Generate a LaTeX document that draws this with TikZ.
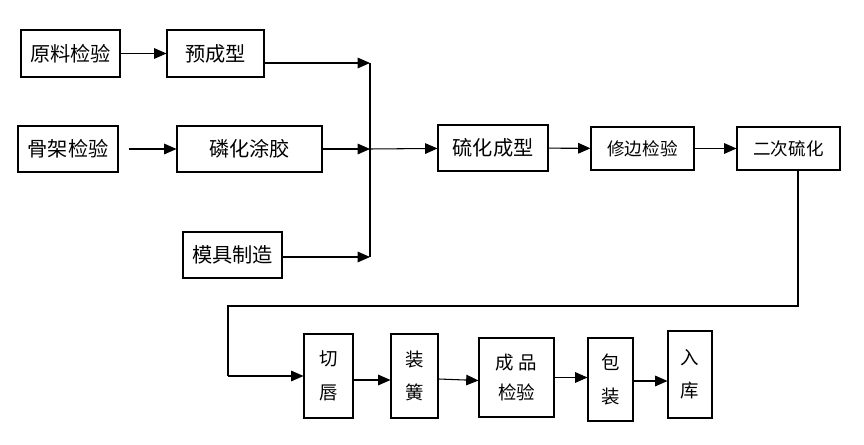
\documentclass[tikz,border=0pt]{standalone}
\usepackage{fontspec}
\usepackage{tikz}
\usetikzlibrary{arrows.meta,positioning}
\newfontfamily\cjk{Noto Sans CJK SC}

\tikzset{
  box/.style={draw, line width=0.6pt, inner sep=0pt, font=\cjk\fontsize{11.5}{14}\selectfont},
  sbox/.style={box, font=\cjk\fontsize{10}{12}\selectfont},
  vbox/.style={box, align=center, font=\cjk\fontsize{10.5}{19}\selectfont},
  arr/.style={line width=0.6pt, -{Triangle[length=7pt,width=6pt]}},
  ln/.style={line width=0.6pt}
}

\begin{document}
\begin{tikzpicture}[x=0.02cm,y=0.02cm]
\useasboundingbox (0,0) rectangle (864,-445);
% upper part
\node [box, minimum width=1.98cm, minimum height=0.94cm] (raw) at (70.5,-53.5) {原料检验};
\node [box, minimum width=1.94cm, minimum height=0.94cm] (preform) at (215.5,-53.5) {预成型};
\node [box, minimum width=2cm, minimum height=0.92cm] (frame) at (68,-149) {骨架检验};
\node [box, minimum width=2.9cm, minimum height=0.92cm] (coat) at (249.5,-149) {磷化涂胶};
\node [box, minimum width=1.98cm, minimum height=0.92cm] (mold) at (232.5,-255) {模具制造};
\coordinate (j1) at (370,-63);
\coordinate (j2) at (370,-149);
\coordinate (j3) at (370,-257);
\node [box, minimum width=2.2cm, minimum height=0.92cm] (cure) at (493,-148) {硫化成型};
\node [sbox, minimum width=2.06cm, minimum height=0.86cm] (trim) at (642.5,-148.5) {修边检验};
\node [sbox, minimum width=2.06cm, minimum height=0.86cm] (cure2) at (788.5,-148.5) {二次硫化};
\draw [arr] (raw) -- (preform);
\draw [arr] ([xshift=0.2cm]frame.east) -- (coat);
\draw [arr] (preform.east |- j1) -- (j1);
\draw [arr] (coat) -- (j2);
\draw [arr] (mold.east |- j3) -- (j3);
\draw [ln] (j1) -- (j3);
\draw [arr] (j2) -- (cure);
\draw [arr] (cure) -- (trim);
\draw [arr] (trim) -- (cure2);
% lower part
\node [vbox, minimum width=0.98cm, minimum height=1.68cm] (cut) at (328.5,-376) {切\\唇};
\node [vbox, minimum width=0.94cm, minimum height=1.68cm] (spring) at (414.5,-376) {装\\簧};
\node [vbox, minimum width=1.5cm, minimum height=1.58cm, font=\cjk\fontsize{10.5}{17}\selectfont] (final) at (516.5,-377.5) {成 品\\检验};
\node [vbox, minimum width=0.9cm, minimum height=1.66cm] (pack) at (610.5,-379.5) {包\\装};
\node [vbox, minimum width=0.88cm, minimum height=1.74cm] (store) at (690,-374.5) {入\\库};
\coordinate (c1) at (798,-306);
\coordinate (c2) at (228,-306);
\draw [ln] (c1 |- cure2.south) -- (c1) -- (c2) -- (c2 |- cut);
\draw [arr] (c2 |- cut) -- (cut);
\draw [arr] ([yshift=-0.08cm]cut.east) -- ([yshift=-0.08cm]spring.west);
\draw [arr] ([yshift=-0.06cm]spring.east) -- ([yshift=-0.06cm]final.west);
\draw [arr] (final) -- (final -| pack.west);
\draw [arr] ([yshift=-0.03cm]pack.east) -- ([yshift=-0.03cm]pack.east -| store.west);
\end{tikzpicture}
\end{document}
